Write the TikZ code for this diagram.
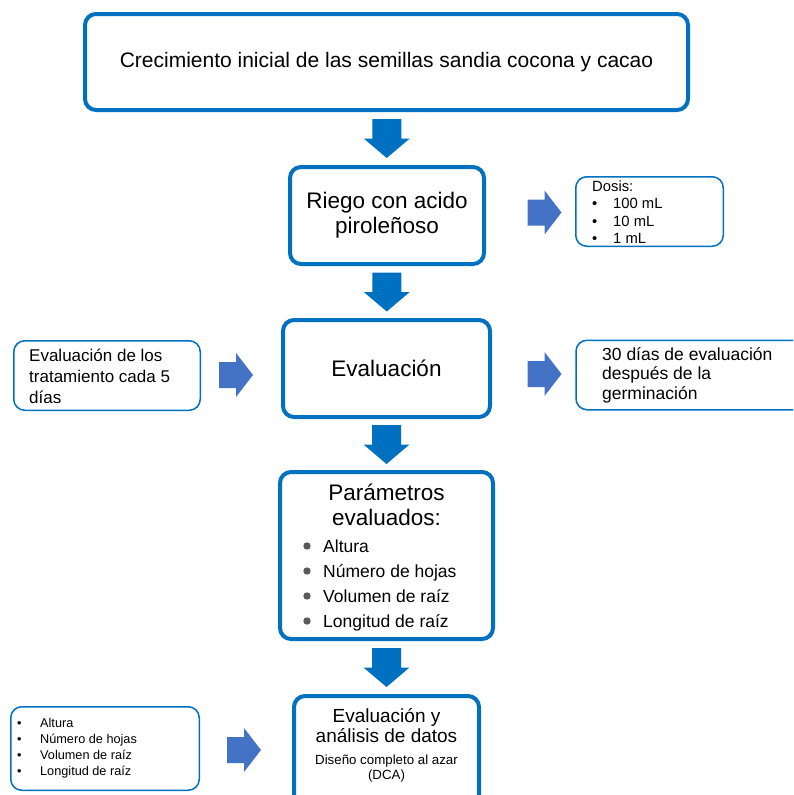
\documentclass[tikz,border=0pt]{standalone}
\usepackage{fontspec}
\setmainfont{Liberation Sans}
\usetikzlibrary{calc}

\definecolor{boxblue}{HTML}{0070C0}
\definecolor{arrowblue}{HTML}{4472C4}
\definecolor{dotgrey}{HTML}{595959}

\newcommand{\dotitem}{\makebox[21pt][l]{\textbullet}}
\newcommand{\smallitem}{\makebox[23pt][l]{\textbullet}}

\tikzset{
  pics/downarrow/.style={code={
    \fill[boxblue] (-14.5,-19.5) -- (14.5,-19.5) -- (14.5,0) -- (23,0)
      -- (0,19.5) -- (-23,0) -- (-14.5,0) -- cycle;}},
  pics/rightarrow/.style={code={
    \fill[arrowblue] (-17,-13) -- (0,-13) -- (0,-22) -- (17,0)
      -- (0,22) -- (0,13) -- (-17,13) -- cycle;}}
}

\begin{document}
\begin{tikzpicture}[x=1pt,y=-1pt,
  mainbox/.style={draw=boxblue, line width=4pt, rounded corners=11pt, inner sep=0pt},
  sidebox/.style={draw=boxblue, line width=1.5pt, rounded corners=11pt, inner sep=0pt},
  bigtxt/.style={font=\fontsize{22.5}{25}\selectfont, align=center},
  itemtxt/.style={font=\fontsize{17.5}{20}\selectfont, inner sep=0pt, anchor=base west}]
  \useasboundingbox (0,0) rectangle (793,795);
  \clip (0,0) rectangle (793,795);

  % main column
  \node[mainbox, minimum width=603pt, minimum height=96pt,
        font=\fontsize{21}{24}\selectfont] (crec) at (386.5,62)
    {Crecimiento inicial de las semillas sandia cocona y cacao};
  \node[mainbox, bigtxt, minimum width=194pt, minimum height=97pt] (riego) at (387,215.5)
    {Riego con acido\\piroleñoso};
  \node[mainbox, bigtxt, minimum width=207pt, minimum height=97pt] (eval) at (386.5,368.5)
    {Evaluación};
  \node[mainbox, minimum width=213pt, minimum height=167pt] (param) at (386.5,555.5) {};
  \node[mainbox, minimum width=185pt, minimum height=114pt] (analisis) at (386.5,753) {};

  % contents of the two tall boxes
  \node[bigtxt] (paramtit) at (386.5,504.5) {Parámetros\\evaluados:};
  \foreach \txt [count=\i] in {Altura, Número de hojas, Volumen de raíz, Longitud de raíz} {
    \fill[dotgrey] (307,521+25*\i) circle[radius=3.7pt];
    \node[itemtxt] (par\i) at (323,527.5+25*\i) {\txt};
  }
  \node[font=\fontsize{19}{20}\selectfont, align=center] (analisistit) at (386.5,726)
    {Evaluación y\\análisis de datos};
  \node[font=\fontsize{13.3}{15.5}\selectfont, align=center] (analisissub) at (386.5,768.5)
    {Diseño completo al azar\\(DCA)};

  % side boxes
  \node[sidebox, minimum width=147.5pt, minimum height=69.5pt] (dosis) at (649.5,211.5) {};
  \node[font=\fontsize{14.8}{17.3}\selectfont, align=left, anchor=west, inner sep=0pt]
    (dosistxt) at (592,212) {Dosis:\\\dotitem 100 mL\\\dotitem 10 mL\\\dotitem 1 mL};

  \node[sidebox, minimum width=186.5pt, minimum height=69.5pt] (cada) at (107,375.5) {};
  \node[font=\fontsize{17}{21}\selectfont, align=left, anchor=west, inner sep=0pt]
    (cadatxt) at (29,376) {Evaluación de los\\tratamiento cada 5\\días};

  \node[sidebox, minimum width=229pt, minimum height=69.5pt] (dias) at (690.5,375) {};
  \node[font=\fontsize{17.5}{19.5}\selectfont, align=left, anchor=west, inner sep=0pt]
    (diastxt) at (602,375) {30 días de evaluación\\después de la\\germinación};

  \node[sidebox, minimum width=188.5pt, minimum height=83.5pt] (lista) at (105,748.5) {};
  \node[font=\fontsize{12.7}{16}\selectfont, align=left, anchor=west, inner sep=0pt]
    (listatxt) at (17,748) {\smallitem Altura\\\smallitem Número de hojas\\
      \smallitem Volumen de raíz\\\smallitem Longitud de raíz};

  % block arrows
  \pic at ($(crec.south)!0.5!(riego.north)$) {downarrow};
  \pic at ($(riego.south)!0.5!(eval.north)$) {downarrow};
  \pic at ($(eval.south)!0.5!(param.north)$) {downarrow};
  \pic at ($(param.south)!0.5!(analisis.north)$) {downarrow};

  \pic at (544.5,212.5) {rightarrow};
  \pic at (236,375) {rightarrow};
  \pic at (544.5,374) {rightarrow};
  \pic at (244,750) {rightarrow};
\end{tikzpicture}
\end{document}
